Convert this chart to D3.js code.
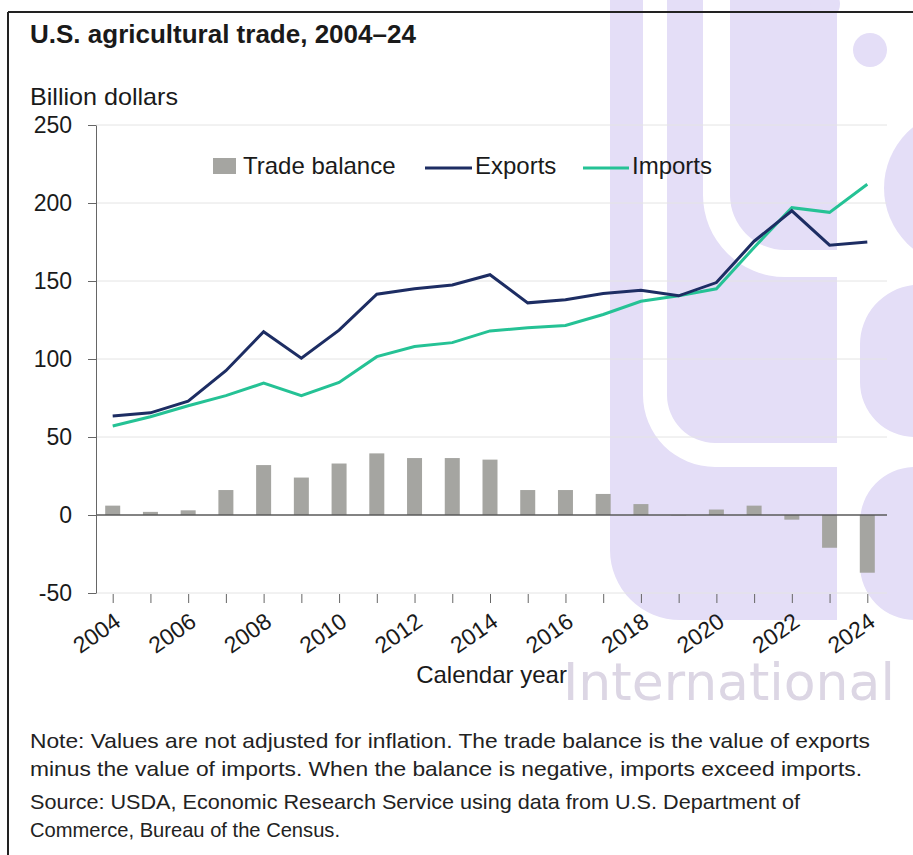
<!DOCTYPE html>
<html>
<head>
<meta charset="utf-8">
<script src="https://cdn.jsdelivr.net/npm/d3@7"></script>
<style>
  html, body { margin: 0; padding: 0; background: #ffffff; }
  svg { display: block; }
  text { font-family: "Liberation Sans", Arial, sans-serif; fill: #1a1a1a; }
</style>
</head>
<body>
<svg id="chart" width="913" height="855"></svg>
<script>
// ---- data (billion dollars) ----
const years = [2004, 2005, 2006, 2007, 2008, 2009, 2010, 2011, 2012, 2013, 2014,
               2015, 2016, 2017, 2018, 2019, 2020, 2021, 2022, 2023, 2024];
const exportsValues = [63.5, 65.5, 73, 92.5, 117.5, 100.5, 118.5, 141.5, 145, 147.5, 154,
                       136, 138, 142, 144, 140.5, 149, 175.5, 195, 173, 175];
const importsValues = [57, 63, 70, 76.5, 84.5, 76.5, 85, 101.5, 108, 110.5, 118,
                       120, 121.5, 128.5, 137, 140.5, 145, 171.5, 197, 194, 212];
const balanceValues = [6, 2, 3, 16, 32, 24, 33, 39.5, 36.5, 36.5, 35.5,
                       16, 16, 13.5, 7, -0.3, 3.5, 6, -3, -21, -37];
const yTicks = [-50, 0, 50, 100, 150, 200, 250];
const xLabelYears = [2004, 2006, 2008, 2010, 2012, 2014, 2016, 2018, 2020, 2022, 2024];

const noteLines = [
  "Note: Values are not adjusted for inflation. The trade balance is the value of exports",
  "minus the value of imports. When the balance is negative, imports exceed imports.",
  "Source: USDA, Economic Research Service using data from U.S. Department of",
  "Commerce, Bureau of the Census."
];
const noteWidths = [840, 832, 770, 310];
const noteBaselines = [748, 776, 809, 837];

const colors = { exports: "#1d2d63", imports: "#25c295", balance: "#a5a5a1", wash: "#e4def7" };

const svg = d3.select("#chart");

// ---- background emblem (soft lavender shapes behind the plot) ----
const bg = svg.append("g");
[
  "M610,0 H643 V395 A72,72 0 0 0 715,467 H837 V620 H680 A70,70 0 0 1 610,550 Z",
  "M667,0 H703 V195 A82,82 0 0 0 785,277 H837 V443 H715 A48,48 0 0 1 667,395 Z",
  "M730,0 H837 V250 H785 A55,55 0 0 1 730,195 Z",
  "M913,285 H920 V437 H915 A55,55 0 0 1 860,382 V345 A60,60 0 0 1 913,285 Z",
  "M913,467 H920 V620 H915 A55,55 0 0 1 860,565 V522 A55,55 0 0 1 913,467 Z"
].forEach(d => bg.append("path").attr("d", d).attr("fill", colors.wash));
bg.append("circle").attr("cx", 962).attr("cy", 188).attr("r", 78).attr("fill", colors.wash);
bg.append("circle").attr("cx", 870).attr("cy", 50).attr("r", 17).attr("fill", colors.wash);
bg.append("circle").attr("cx", 825).attr("cy", 4).attr("r", 15).attr("fill", colors.wash);
bg.append("text").attr("x", 563).attr("y", 700)
  .style("font-family", "'DejaVu Sans', sans-serif").style("font-size", "52px")
  .style("fill", "#dcd6e4").text("International");

// ---- frame ----
svg.append("line").attr("x1", 8).attr("x2", 913).attr("y1", 12).attr("y2", 12)
  .attr("stroke", "#222").attr("stroke-width", 2);
svg.append("line").attr("x1", 8).attr("x2", 8).attr("y1", 12).attr("y2", 855)
  .attr("stroke", "#222").attr("stroke-width", 2);

// ---- title ----
svg.append("text").attr("x", 30).attr("y", 43)
  .style("font-size", "26px").style("font-weight", "bold")
  .text("U.S. agricultural trade, 2004\u201324");
svg.append("text").attr("x", 30).attr("y", 105)
  .style("font-size", "24px").attr("textLength", 148).attr("lengthAdjust", "spacingAndGlyphs")
  .text("Billion dollars");

// ---- scales ----
const plotLeft = 96, plotRight = 887;
const x = d3.scaleLinear().domain([2004, 2024]).range([112.7, 867.3]);
const y = d3.scaleLinear().domain([-50, 250]).range([593, 125]);
const barWidth = 15;

// gridlines
svg.append("g").selectAll("line").data(yTicks.filter(v => v !== 0)).join("line")
  .attr("x1", plotLeft).attr("x2", plotRight)
  .attr("y1", d => y(d)).attr("y2", d => y(d))
  .attr("stroke", "#e4e4e4").attr("stroke-width", 1);

// trade balance bars
svg.append("g").selectAll("rect").data(years).join("rect")
  .attr("x", (d) => x(d) - barWidth / 2)
  .attr("width", barWidth)
  .attr("y", (d, i) => y(Math.max(0, balanceValues[i])))
  .attr("height", (d, i) => Math.abs(y(balanceValues[i]) - y(0)))
  .attr("fill", colors.balance);

// zero line
svg.append("line").attr("x1", plotLeft).attr("x2", plotRight)
  .attr("y1", y(0)).attr("y2", y(0))
  .attr("stroke", "#5a5a5a").attr("stroke-width", 1.5);

// y axis
const yAxis = svg.append("g").attr("transform", `translate(${plotLeft},0)`)
  .call(d3.axisLeft(y).tickValues(yTicks).tickSize(8).tickSizeOuter(0).tickPadding(16)
    .tickFormat(d => String(d)));
yAxis.select(".domain").attr("stroke", "#666");
yAxis.selectAll(".tick line").attr("stroke", "#666");
yAxis.selectAll(".tick text").style("font-size", "23px")
  .style("font-family", "'Liberation Sans', Arial, sans-serif").attr("fill", "#1a1a1a");

// x axis
const xAxis = svg.append("g").attr("transform", `translate(0,${y(-50) + 1})`)
  .call(d3.axisBottom(x).tickValues(years).tickSize(9)
    .tickFormat(d => xLabelYears.includes(d) ? String(d) : ""));
xAxis.select(".domain").remove();
xAxis.selectAll(".tick line").attr("stroke", "#666");
xAxis.selectAll(".tick text")
  .style("font-size", "23px")
  .style("font-family", "'Liberation Sans', Arial, sans-serif")
  .attr("fill", "#1a1a1a")
  .attr("x", 0).attr("y", 0).attr("dy", 0)
  .attr("text-anchor", "end")
  .attr("transform", "translate(9,31) rotate(-35)");

svg.append("text").attr("x", (plotLeft + plotRight) / 2).attr("y", 683)
  .attr("text-anchor", "middle").style("font-size", "24px").text("Calendar year");

// lines
const lineGen = vals => d3.line().x((d, i) => x(years[i])).y(d => y(d))(vals);
svg.append("path").attr("d", lineGen(importsValues))
  .attr("fill", "none").attr("stroke", colors.imports).attr("stroke-width", 3);
svg.append("path").attr("d", lineGen(exportsValues))
  .attr("fill", "none").attr("stroke", colors.exports).attr("stroke-width", 3);

// legend
const legend = svg.append("g");
legend.append("rect").attr("x", 213).attr("y", 158).attr("width", 23).attr("height", 16)
  .attr("fill", colors.balance);
legend.append("text").attr("x", 243).attr("y", 174).style("font-size", "24px").text("Trade balance");
legend.append("line").attr("x1", 425).attr("x2", 472).attr("y1", 168).attr("y2", 168)
  .attr("stroke", colors.exports).attr("stroke-width", 3);
legend.append("text").attr("x", 475).attr("y", 174).style("font-size", "24px").text("Exports");
legend.append("line").attr("x1", 583).attr("x2", 629).attr("y1", 168).attr("y2", 168)
  .attr("stroke", colors.imports).attr("stroke-width", 3);
legend.append("text").attr("x", 632).attr("y", 174).style("font-size", "24px").text("Imports");

// note and source
svg.append("g").selectAll("text").data(noteLines).join("text")
  .attr("x", 30).attr("y", (d, i) => noteBaselines[i])
  .attr("textLength", (d, i) => noteWidths[i]).attr("lengthAdjust", "spacingAndGlyphs")
  .style("font-size", "21px").style("fill", "#222").text(d => d);
</script>
</body>
</html>
